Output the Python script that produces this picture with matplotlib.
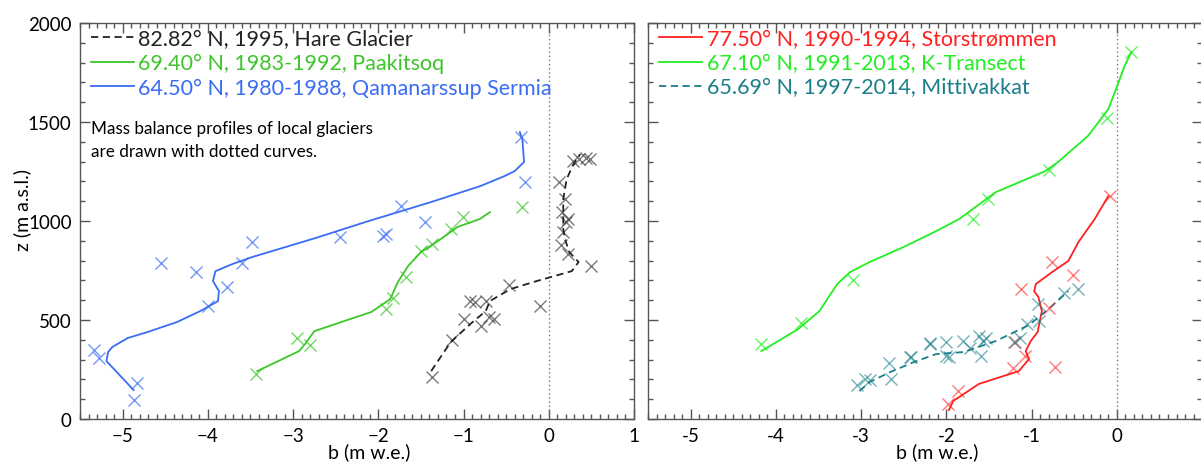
import numpy as np
import matplotlib.pyplot as plt
from matplotlib.ticker import MultipleLocator

plt.rcParams['font.family'] = ['Lato', 'DejaVu Sans']

# ---- left panel: local glaciers ----
# Hare Glacier (82.82 N, 1995)
hare_b = [-1.38, -1.15, -0.92, -0.74, -0.69, -0.45, -0.14, 0.27, 0.35, 0.24, 0.19,
          0.17, 0.17, 0.17, 0.21, 0.29, 0.37]
hare_z = [242, 389, 480, 545, 596, 656, 697, 747, 793, 843, 909, 960, 1010, 1111,
          1212, 1288, 1338]
hare_pb = [-1.37, -1.14, -1.00, -0.80, -0.70, -0.64, -0.92, -0.87, -0.74, -0.47, -0.10,
           0.50, 0.22, 0.14, 0.17, 0.20, 0.12, 0.19, 0.15, 0.23, 0.29, 0.44, 0.48, 0.35]
hare_pz = [212, 399, 505, 470, 515, 505, 596, 591, 596, 677, 571, 773, 833, 879, 944,
           995, 1197, 1111, 1045, 1010, 1303, 1318, 1313, 1313]

# Paakitsoq (69.40 N, 1983-1992)
paak_b = [-3.42, -2.93, -2.85, -2.75, -2.08, -1.86, -1.77, -1.65, -1.50, -1.30, -1.07,
          -0.81, -0.69]
paak_z = [242, 343, 384, 444, 541, 606, 692, 773, 843, 899, 970, 1010, 1045]
paak_pb = [-3.43, -2.95, -2.80, -1.91, -1.83, -1.67, -1.50, -1.37, -1.15, -1.01, -0.31]
paak_pz = [227, 409, 374, 556, 611, 717, 848, 884, 960, 1020, 1071]

# Qamanarssup Sermia (64.50 N, 1980-1988)
qama_b = [-4.87, -5.19, -5.17, -5.12, -4.94, -4.71, -4.36, -4.09, -3.94, -3.88, -3.87,
          -3.94, -3.91, -3.71, -3.48, -2.93, -2.70, -2.15, -1.38, -0.80, -0.52, -0.40,
          -0.29, -0.31, -0.34]
qama_z = [146, 293, 338, 364, 409, 439, 490, 545, 581, 596, 646, 697, 747, 783, 818,
          889, 919, 995, 1096, 1177, 1227, 1252, 1298, 1414, 1449]
qama_pb = [-5.34, -5.28, -4.83, -4.87, -4.55, -4.14, -4.00, -3.78, -3.60, -3.48, -2.45,
           -1.91, -1.94, -1.45, -1.73, -0.28, -0.33]
qama_pz = [348, 308, 182, 96, 788, 742, 570, 667, 788, 894, 919, 934, 924, 995, 1076,
           1197, 1424]

# ---- right panel: ice sheet ----
# Storstrommen (77.50 N, 1990-1994)
stor_b = [-1.97, -1.92, -1.62, -1.15, -1.03, -1.07, -1.01, -0.93, -0.88, -0.92, -0.97,
          -0.95, -0.76, -0.57, -0.45, -0.26, -0.10]
stor_z = [45, 91, 177, 242, 303, 343, 394, 439, 545, 616, 646, 682, 742, 798, 894,
          1010, 1126]
stor_pb = [-1.98, -1.86, -1.22, -1.08, -1.19, -0.72, -0.80, -1.12, -0.76, -0.51, -0.08]
stor_pz = [76, 141, 258, 318, 389, 263, 561, 657, 793, 727, 1126]

# K-Transect (67.10 N, 1991-2013)
ktr_b = [-4.17, -3.74, -3.49, -3.28, -3.13, -2.90, -2.50, -2.12, -1.85, -1.42, -0.84,
         -0.69, -0.34, -0.10, 0.00, 0.09, 0.17]
ktr_z = [343, 454, 545, 682, 742, 793, 869, 949, 1010, 1146, 1252, 1298, 1429, 1565,
         1677, 1783, 1853]
ktr_pb = [-4.17, -3.71, -3.09, -1.69, -1.51, -0.80, -0.12, 0.17]
ktr_pz = [379, 485, 702, 1010, 1111, 1258, 1520, 1853]

# Mittivakkat (65.69 N, 1997-2014)
mitt_b = [-3.02, -2.90, -2.66, -2.38, -2.12, -1.80, -1.42, -1.03, -0.80, -0.57]
mitt_z = [141, 187, 237, 288, 328, 338, 394, 475, 556, 646]
mitt_pb = [-3.05, -2.95, -2.90, -2.65, -2.67, -2.41, -2.19, -2.43, -2.19, -2.00, -2.01,
           -1.97, -1.81, -1.72, -1.62, -1.57, -1.59, -1.53, -1.21, -1.14, -1.05, -0.91,
           -0.93, -0.62, -0.45]
mitt_pz = [172, 202, 197, 202, 283, 313, 384, 313, 379, 389, 318, 313, 394, 359, 419,
           394, 318, 409, 389, 409, 480, 495, 581, 636, 657]

left_labels = ['82.82° N, 1995, Hare Glacier',
               '69.40° N, 1983-1992, Paakitsoq',
               '64.50° N, 1980-1988, Qamanarssup Sermia']
right_labels = ['77.50° N, 1990-1994, Storstrømmen',
                '67.10° N, 1991-2013, K-Transect',
                '65.69° N, 1997-2014, Mittivakkat']
x_ticks = [-5, -4, -3, -2, -1, 0, 1]

c_black = '#222222'
c_green1 = '#3cc62a'
c_blue = '#3a6cf4'
c_red = '#ff2020'
c_green2 = '#22ee22'
c_teal = '#1a7f8a'

fig = plt.figure(figsize=(12.01, 4.64), dpi=100)
ax1 = fig.add_axes([0.0666, 0.0948, 0.4613, 0.8534])
ax2 = fig.add_axes([0.5396, 0.0948, 0.4613, 0.8534])


def style(ax):
    ax.set_xlim(-5.5, 1.0)
    ax.set_ylim(0, 2000)
    ax.xaxis.set_major_locator(MultipleLocator(1))
    ax.xaxis.set_minor_locator(MultipleLocator(0.1))
    ax.yaxis.set_major_locator(MultipleLocator(500))
    ax.yaxis.set_minor_locator(MultipleLocator(100))
    ax.tick_params(which='both', direction='in', top=True, right=True,
                   color='#555555', width=1.0, labelsize=13.5, pad=6)
    ax.tick_params(which='major', length=7)
    ax.tick_params(which='minor', length=3.5)
    for s in ax.spines.values():
        s.set_color('#555555')
        s.set_linewidth(1.0)
    ax.axvline(0, color='#777777', linestyle=(0, (1, 2)), linewidth=1.0)
    ax.set_xlabel('b (m w.e.)', fontsize=14, va='top')
    ax.xaxis.set_label_coords(0.522, -0.058)


style(ax1)
style(ax2)
ax2.set_yticklabels([])
ax2.set_xticks(x_ticks)
ax2.set_xticklabels([str(t) for t in x_ticks[:-1]] + [''])

ax1.plot(hare_b, hare_z, color=c_black, linestyle=(0, (4, 2.5)), lw=1.3, label=left_labels[0])
ax1.plot(paak_b, paak_z, color=c_green1, lw=1.3, label=left_labels[1])
ax1.plot(qama_b, qama_z, color=c_blue, lw=1.3, label=left_labels[2])
ax1.plot(hare_pb, hare_pz, 'x', color=c_black, alpha=0.6, ms=8, mew=1.0)
ax1.plot(paak_pb, paak_pz, 'x', color=c_green1, alpha=0.7, ms=8, mew=1.0)
ax1.plot(qama_pb, qama_pz, 'x', color=c_blue, alpha=0.7, ms=8, mew=1.0)

ax2.plot(stor_b, stor_z, color=c_red, lw=1.3, label=right_labels[0])
ax2.plot(ktr_b, ktr_z, color=c_green2, lw=1.3, label=right_labels[1])
ax2.plot(mitt_b, mitt_z, color=c_teal, linestyle=(0, (4, 2.5)), lw=1.3, label=right_labels[2])
ax2.plot(stor_pb, stor_pz, 'x', color=c_red, alpha=0.6, ms=8, mew=1.0)
ax2.plot(ktr_pb, ktr_pz, 'x', color=c_green2, alpha=0.7, ms=8, mew=1.0)
ax2.plot(mitt_pb, mitt_pz, 'x', color=c_teal, alpha=0.6, ms=8, mew=1.0)

for ax in (ax1, ax2):
    leg = ax.legend(loc='upper left', bbox_to_anchor=(0.02, 0.985), frameon=False,
                    fontsize=15.5, handlelength=2.0, handletextpad=0.2,
                    labelspacing=0.2, borderpad=0, borderaxespad=0)
    for txt, ln in zip(leg.get_texts(), leg.get_lines()):
        txt.set_color(ln.get_color())

ax1.text(0.02, 0.755, 'Mass balance profiles of local glaciers\nare drawn with dotted curves.',
         transform=ax1.transAxes, fontsize=12.3, va='top', ha='left', linespacing=1.5)

ax1.set_ylabel('z (m a.s.l.)', fontsize=14)
ax1.yaxis.set_label_coords(-0.088, 0.53)

plt.savefig('out.png', dpi=100)
